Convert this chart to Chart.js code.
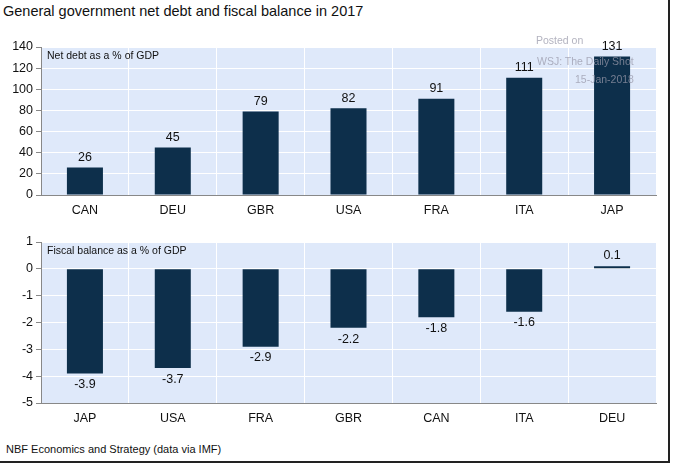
<!DOCTYPE html><html><head><script src="https://cdn.jsdelivr.net/npm/chart.js@4"></script>
<style>body{margin:0;background:#fff;width:680px;height:467px;position:relative;overflow:hidden;font-family:"Liberation Sans",Arial,sans-serif}
.c{position:absolute;left:0;width:660px}
#t{position:absolute;left:3px;top:3px;font-size:14.5px;color:#111}
#f{position:absolute;left:6px;top:443px;font-size:11px;color:#111}
#rb{position:absolute;left:668px;top:0;width:2px;height:463px;background:#222}
#bb{position:absolute;left:0;top:461px;width:670px;height:2px;background:#222}
.w{position:absolute;color:#99a;font-size:10.5px;opacity:.75}
</style></head><body>
<div id="t">General government net debt and fiscal balance in 2017</div>
<div class="c" style="top:30px;height:196px"><canvas id="c1"></canvas></div>
<div class="c" style="top:225px;height:209px"><canvas id="c2"></canvas></div>
<div id="f">NBF Economics and Strategy (data via IMF)</div>
<div id="rb"></div><div id="bb"></div>
<div class="w" style="left:536px;top:34px">Posted on</div>
<div class="w" style="left:537px;top:55px">WSJ: The Daily Shot</div>
<div class="w" style="left:575px;top:73px">15-Jan-2018</div>
<script>
const debtCats=["CAN","DEU","GBR","USA","FRA","ITA","JAP"];
const debtVals=[26,45,79,82,91,111,131];
const balCats=["JAP","USA","FRA","GBR","CAN","ITA","DEU"];
const balVals=[-3.9,-3.7,-2.9,-2.2,-1.8,-1.6,0.1];
const bg={id:'bg',beforeDraw(c){const a=c.chartArea,x=c.ctx;x.save();x.fillStyle='#dfe9fa';x.fillRect(a.left,a.top,a.right-a.left,a.bottom-a.top);x.restore();}};
const lbl={id:'lbl',afterDatasetsDraw(c){const x=c.ctx;x.save();x.font='12.5px "Liberation Sans",Arial';x.fillStyle='#111';x.textAlign='center';
 c.getDatasetMeta(0).data.forEach((b,i)=>{const v=c.data.datasets[0].data[i];if(v>=0){x.textBaseline='bottom';x.fillText(String(v),b.x,b.y-4);}else{x.textBaseline='top';x.fillText(String(v),b.x,b.y+5);}});
 x.textAlign='left';x.textBaseline='top';x.font='10.5px "Liberation Sans",Arial';x.fillText(c.options.plugins.ttl,c.chartArea.left+6,c.chartArea.top+4);x.restore();}};
function mk(id,cats,vals,ymin,ymax,step,ttl,top){
 new Chart(document.getElementById(id),{type:'bar',data:{labels:cats,datasets:[{data:vals,backgroundColor:'#0d2f4b',categoryPercentage:1,barPercentage:0.41}]},
 options:{responsive:true,maintainAspectRatio:false,animation:false,layout:{padding:{top:top,right:4,left:0,bottom:0}},
 plugins:{legend:{display:false},tooltip:{enabled:false},ttl:ttl},
 scales:{x:{grid:{color:'#fff',offset:true,drawTicks:false},border:{color:'#888'},ticks:{color:'#111',font:{size:12.5},padding:8}},
 y:{min:ymin,max:ymax,afterFit(s){s.width=41},grid:{color:'#fff',tickColor:'#888',tickLength:5},border:{color:'#888'},ticks:{stepSize:step,color:'#111',font:{size:12.5},padding:3}}}},
 plugins:[bg,lbl]});}
mk('c1',debtCats,debtVals,0,140,20,'Net debt as a % of GDP',17);
mk('c2',balCats,balVals,-5,1,1,'Fiscal balance as a % of GDP',17);
</script></body></html>
